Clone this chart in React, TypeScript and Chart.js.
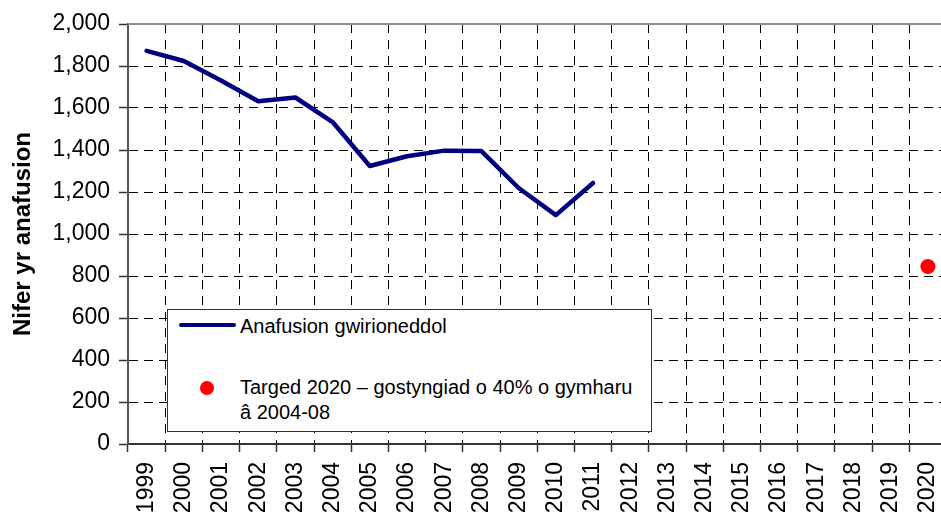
import React, { useEffect, useRef } from "react";
import { Chart, registerables } from "chart.js";

Chart.register(...registerables);

const years = [
  "1999", "2000", "2001", "2002", "2003", "2004", "2005", "2006", "2007", "2008", "2009",
  "2010", "2011", "2012", "2013", "2014", "2015", "2016", "2017", "2018", "2019", "2020",
];
const actualCasualties: (number | null)[] = [
  1872, 1824, 1731, 1632, 1650, 1533, 1324, 1370, 1397, 1395, 1219, 1090, 1243,
  null, null, null, null, null, null, null, null, null,
];
const target2020: (number | null)[] = [
  null, null, null, null, null, null, null, null, null, null, null,
  null, null, null, null, null, null, null, null, null, null, 845,
];
const yMin = 0;
const yMax = 2000;
const yStep = 200;
const seriesLabels = ["Anafusion gwirioneddol", "Targed 2020 – gostyngiad o 40% o gymharu", "â 2004-08"];
const yTitle = "Nifer yr anafusion";

const FONT = '"Liberation Sans", Arial, sans-serif';

const topBorder = {
  id: "topBorder",
  beforeDatasetsDraw(chart: any) {
    const { ctx, chartArea } = chart;
    ctx.save();
    ctx.strokeStyle = "#8c8c8c";
    ctx.lineWidth = 2;
    ctx.beginPath();
    ctx.moveTo(chartArea.left, chartArea.top);
    ctx.lineTo(chartArea.right, chartArea.top);
    ctx.stroke();
    ctx.restore();
  },
};

export default function App() {
  const ref = useRef<HTMLCanvasElement | null>(null);

  useEffect(() => {
    if (!ref.current) return;
    const chart = new Chart(ref.current, {
      type: "line",
      data: {
        labels: years,
        datasets: [
          {
            label: seriesLabels[0],
            data: actualCasualties,
            borderColor: "#000080",
            backgroundColor: "#000080",
            borderWidth: 4.5,
            pointRadius: 0,
            tension: 0,
            borderCapStyle: "round",
            borderJoinStyle: "round",
            spanGaps: false,
          },
          {
            label: seriesLabels[1],
            data: target2020,
            showLine: false,
            pointRadius: 7.5,
            pointBackgroundColor: "#ff0000",
            pointBorderColor: "#ff0000",
            pointBorderWidth: 0,
            borderColor: "#ff0000",
          },
        ],
      },
      options: {
        responsive: false,
        animation: false,
        layout: { padding: { top: 24, right: 13.5, bottom: 0, left: 0 } },
        plugins: {
          legend: { display: false },
          tooltip: { enabled: false },
        },
        scales: {
          x: {
            type: "category",
            offset: true,
            grid: {
              offset: true,
              color: "#000",
              lineWidth: 1,
              drawTicks: true,
              tickLength: 8,
              tickColor: "#333",
              tickWidth: 1.5,
            },
            border: { display: true, color: "#333", width: 2, dash: [9, 7] },
            ticks: {
              minRotation: 90,
              maxRotation: 90,
              autoSkip: false,
              padding: 10,
              color: "#000",
              font: { family: FONT, size: 23 },
            },
            afterFit(s: any) {
              s.height = 70;
              s.paddingLeft = 0;
              s.paddingRight = 0;
            },
          },
          y: {
            min: yMin,
            max: yMax,
            grid: {
              color: (c: any) => (c.tick && c.tick.value === yMax ? "rgba(0,0,0,0)" : "#000"),
              lineWidth: 1,
              drawTicks: true,
              tickLength: 9,
              tickColor: "#333",
              tickWidth: 1.5,
            },
            border: { display: true, color: "#555", width: 2, dash: [9, 6] },
            ticks: {
              stepSize: yStep,
              padding: 9,
              color: "#000",
              font: { family: FONT, size: 23 },
              callback: (v: any) => Number(v).toLocaleString("en-US"),
            },
            title: {
              display: true,
              text: yTitle,
              color: "#000",
              font: { family: FONT, size: 24, weight: "bold" },
              padding: { top: 9, bottom: 0 },
            },
            afterFit(s: any) {
              s.width = 128;
              s.paddingTop = 0;
              s.paddingBottom = 0;
            },
          },
        },
      },
      plugins: [topBorder],
    });
    return () => chart.destroy();
  }, []);

  return (
    <div
      style={{
        position: "fixed",
        left: 0,
        top: 0,
        width: 941,
        height: 514,
        overflow: "hidden",
        background: "#fff",
      }}
    >
      <canvas ref={ref} width={960} height={514} style={{ width: 960, height: 514, display: "block" }} />
      <div
        style={{
          position: "absolute",
          left: 167,
          top: 309,
          width: 485,
          height: 123,
          boxSizing: "border-box",
          border: "1px solid #333",
          background: "#fff",
          fontFamily: FONT,
          fontSize: 20,
          lineHeight: "25px",
          color: "#000",
        }}
      >
        <div
          style={{
            position: "absolute",
            left: 11,
            top: 13,
            width: 57,
            height: 4,
            background: "#000080",
            borderRadius: 2,
          }}
        />
        <div style={{ position: "absolute", left: 72, top: 3.6, whiteSpace: "nowrap" }}>{seriesLabels[0]}</div>
        <div
          style={{
            position: "absolute",
            left: 32,
            top: 71,
            width: 14,
            height: 14,
            borderRadius: "50%",
            background: "#ff0000",
          }}
        />
        <div style={{ position: "absolute", left: 72, top: 65, whiteSpace: "nowrap" }}>
          {seriesLabels[1]}
          <br />
          {seriesLabels[2]}
        </div>
      </div>
    </div>
  );
}
